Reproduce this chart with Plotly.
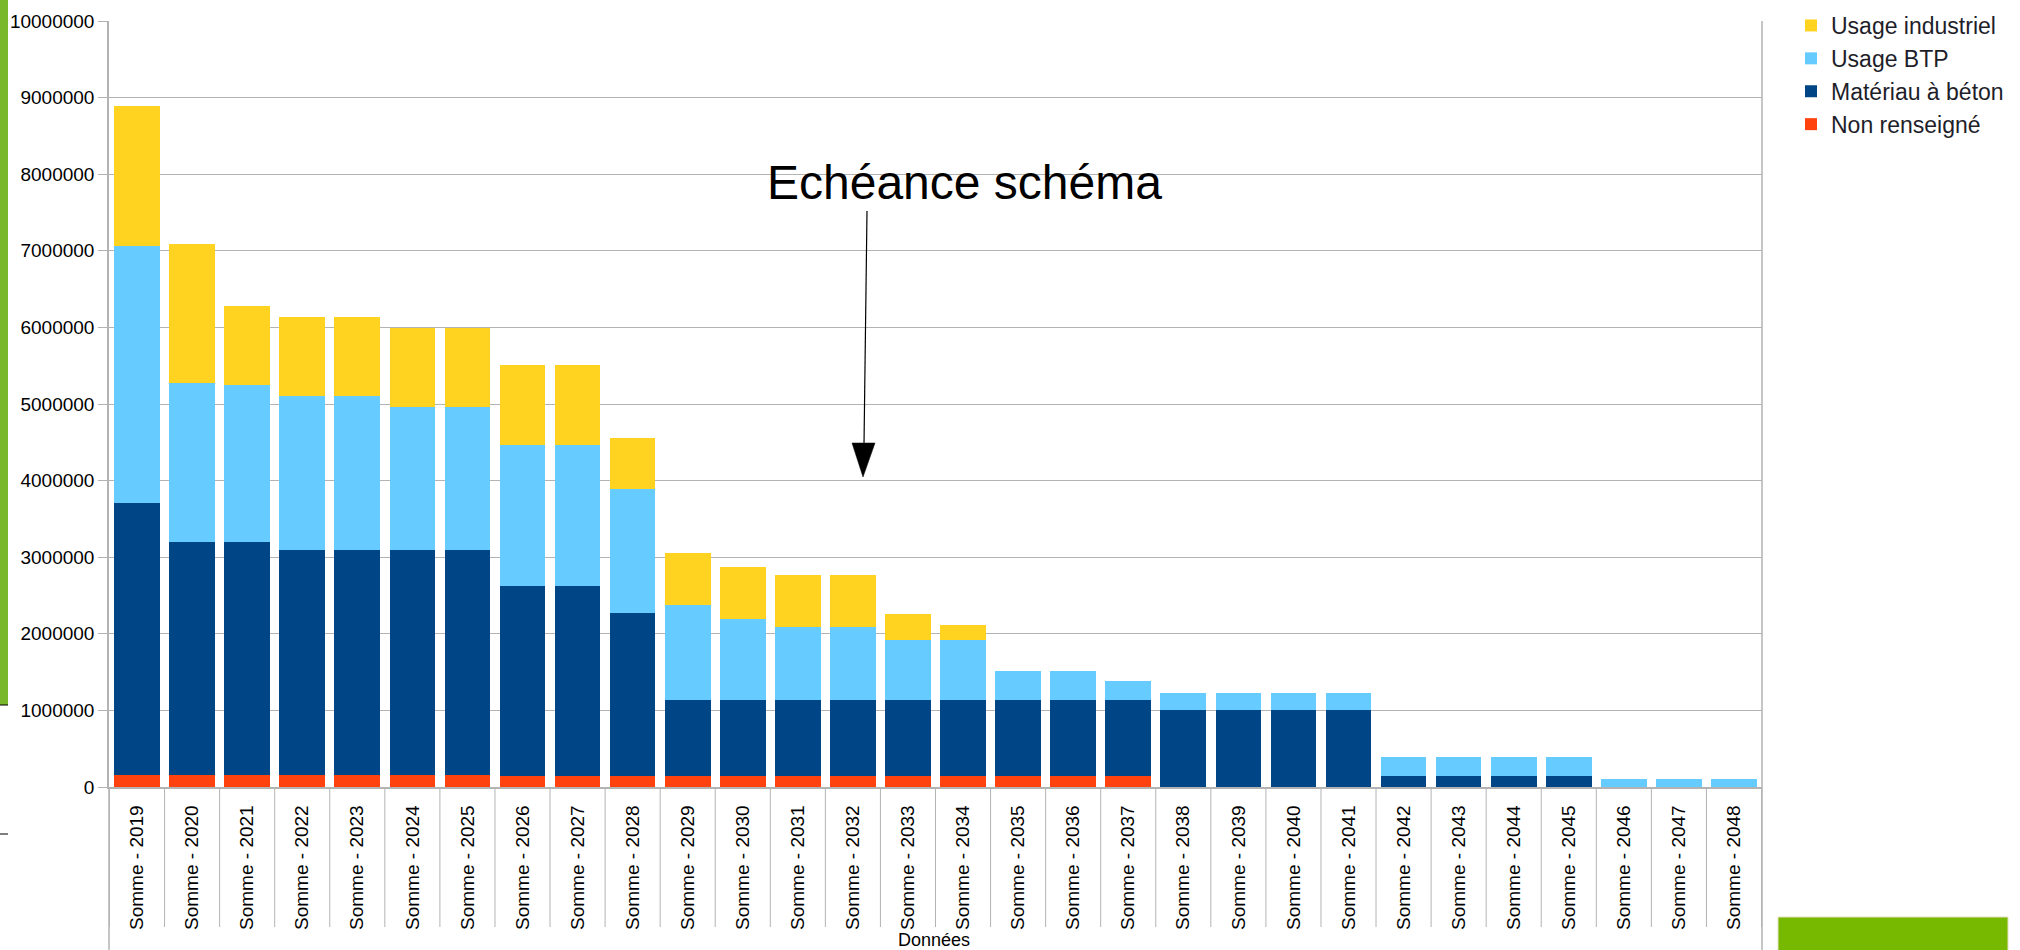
import plotly.graph_objects as go

years = list(range(2019, 2049))
categories = [f"Somme - {y}" for y in years]

non_renseigne = [160000, 160000, 160000, 160000, 160000, 160000, 160000,
                 145000, 145000, 145000, 145000, 145000, 145000, 145000,
                 145000, 145000, 145000, 145000, 145000, 0, 0, 0, 0, 0, 0,
                 0, 0, 0, 0, 0]
materiau = [3550000, 3040000, 3040000, 2940000, 2940000, 2940000, 2940000,
            2485000, 2485000, 2125000, 995000, 995000, 995000, 995000,
            995000, 995000, 995000, 995000, 995000, 1000000, 1000000,
            1000000, 1000000, 150000, 150000, 150000, 150000, 0, 0, 0]
usage_btp = [3350000, 2070000, 2050000, 2000000, 2000000, 1860000, 1860000,
             1840000, 1840000, 1620000, 1240000, 1050000, 950000, 950000,
             780000, 780000, 370000, 370000, 240000, 230000, 230000, 230000,
             230000, 240000, 240000, 240000, 240000, 110000, 110000, 110000]
usage_industriel = [1830000, 1820000, 1030000, 1040000, 1040000, 1030000,
                    1030000, 1040000, 1040000, 670000, 670000, 680000, 680000,
                    680000, 340000, 200000, 0, 0, 0, 0, 0, 0, 0, 0, 0, 0, 0,
                    0, 0, 0]

series = [
    ("Non renseigné", non_renseigne, "#FF420E", 4),
    ("Matériau à béton", materiau, "#004586", 3),
    ("Usage BTP", usage_btp, "#66CCFF", 2),
    ("Usage industriel", usage_industriel, "#FFD320", 1),
]

FONT = "Liberation Sans, Arial, sans-serif"
GRID = "#b3b3b3"

FIG_W, FIG_H = 2020, 950
# plot area in pixels
L, R, T, B = 109, 1762, 21, 787
W, H = R - L, B - T


def px(x):
    return (x - L) / W


def py(y):
    return (B - y) / H


fig = go.Figure()
for name, vals, col, rank in series:
    fig.add_trace(go.Bar(
        x=categories, y=vals, name=name, legendrank=rank,
        marker=dict(color=col, line=dict(width=0)),
    ))

shapes = []
# category separators below the axis
for i in range(len(categories) + 1):
    shapes.append(dict(type="line", xref="x", yref="paper",
                       x0=i - 0.5, x1=i - 0.5, y0=0, y1=py(927),
                       line=dict(color=GRID, width=1)))
# left axis extension and right frame
shapes.append(dict(type="line", xref="paper", yref="paper", x0=0, x1=0,
                   y0=py(960), y1=0, line=dict(color=GRID, width=1.5)))
shapes.append(dict(type="line", xref="paper", yref="paper", x0=1, x1=1,
                   y0=py(960), y1=1, line=dict(color=GRID, width=1.5)))
# arrow
shapes.append(dict(type="line", xref="paper", yref="paper",
                   x0=px(867), y0=py(211), x1=px(864), y1=py(445),
                   line=dict(color="black", width=1.2)))
shapes.append(dict(type="path", xref="paper", yref="paper",
                   path=f"M {px(852)} {py(443)} L {px(875)} {py(443)} L {px(863)} {py(477)} Z",
                   fillcolor="black", line=dict(color="black", width=0.5)))
# green decorations
shapes.append(dict(type="rect", xref="paper", yref="paper",
                   x0=px(-2), x1=px(8), y0=py(705), y1=py(-2),
                   fillcolor="#78B82A", line=dict(width=0)))
shapes.append(dict(type="line", xref="paper", yref="paper",
                   x0=px(-2), x1=px(8), y0=py(705), y1=py(705),
                   line=dict(color="black", width=1)))
shapes.append(dict(type="line", xref="paper", yref="paper",
                   x0=px(-2), x1=px(8), y0=py(834), y1=py(834),
                   line=dict(color="black", width=1)))
shapes.append(dict(type="rect", xref="paper", yref="paper",
                   x0=px(1778), x1=px(2008), y0=py(960), y1=py(917),
                   fillcolor="#76B900", line=dict(color="#e8e0c0", width=1)))

annotations = [
    dict(text="Echéance schéma", xref="paper", yref="paper",
         x=px(964), y=py(183), xanchor="center", yanchor="middle",
         showarrow=False, font=dict(family=FONT, size=48, color="black")),
    dict(text="Données", xref="paper", yref="paper",
         x=px(934), y=py(940), xanchor="center", yanchor="middle",
         showarrow=False, font=dict(family=FONT, size=18, color="#000")),
]

fig.update_layout(
    width=FIG_W, height=FIG_H,
    margin=dict(l=L, r=FIG_W - R, t=T, b=FIG_H - B, autoexpand=False),
    barmode="stack", bargap=0.17,
    plot_bgcolor="white", paper_bgcolor="white",
    font=dict(family=FONT, size=19, color="#000"),
    showlegend=True,
    legend=dict(x=px(1791), y=py(4), xanchor="left", yanchor="top",
                traceorder="normal", tracegroupgap=0,
                font=dict(family=FONT, size=23, color="#1e1e2a"),
                bgcolor="rgba(0,0,0,0)"),
    shapes=shapes, annotations=annotations,
)
fig.update_xaxes(
    type="category", tickangle=-90, showgrid=False,
    showline=True, linecolor=GRID, linewidth=1.5,
    ticks="", ticklabelstandoff=9,
    tickfont=dict(family=FONT, size=19, color="#000"),
)
fig.update_yaxes(
    range=[0, 10000000], dtick=1000000, tickformat="d",
    showgrid=True, gridcolor=GRID, gridwidth=1,
    showline=True, linecolor=GRID, linewidth=1.5,
    ticks="outside", ticklen=9, tickcolor=GRID,
    tickfont=dict(family=FONT, size=19, color="#000"),
    zeroline=False,
)

fig.write_html(
    "out.html",
    config={"displayModeBar": False},
    post_script="document.body.style.margin='0';document.body.style.overflow='hidden';",
)
